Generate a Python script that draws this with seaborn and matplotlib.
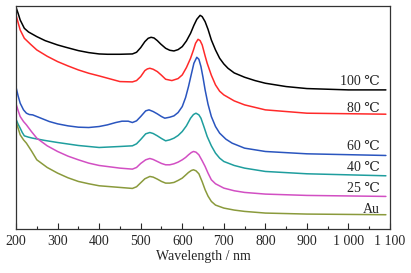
import matplotlib
matplotlib.use("Agg")
import matplotlib.pyplot as plt
import pandas as pd
import seaborn as sns

sns.set_style("white")
plt.rcParams['font.family'] = ['Liberation Serif', 'DejaVu Serif', 'DejaVu Sans']

# absorbance traces (arbitrary offset units)
wl_100 = [200, 205, 210, 220, 230, 250, 270, 300, 320, 350, 375, 400, 420, 450, 480, 490, 500, 510, 518, 525, 532, 540, 548, 560, 570, 580, 590, 600, 610, 620, 628, 635, 643, 648, 655, 662, 670, 680, 690, 700, 710, 725, 750, 775, 800, 850, 900, 950, 1000, 1090]
ab_100 = [666, 648, 628, 603, 592, 578, 566, 553, 546, 536, 530, 526, 525, 525, 526, 531, 545, 563, 573, 576, 574, 566, 556, 543, 537, 535, 539, 548, 565, 588, 612, 630, 642, 638, 623, 600, 568, 538, 513, 496, 483, 469, 456, 446, 438, 428, 422, 420, 418, 418]

wl_80 = [200, 205, 210, 220, 235, 250, 275, 300, 325, 350, 375, 400, 450, 480, 490, 500, 510, 516, 522, 530, 540, 550, 560, 575, 590, 600, 610, 620, 627, 632, 638, 643, 648, 655, 660, 670, 680, 690, 700, 725, 750, 800, 900, 1090]
ab_80 = [643, 620, 598, 573, 555, 538, 519, 503, 490, 478, 468, 460, 443, 442, 446, 458, 476, 481, 483, 480, 473, 462, 450, 446, 452, 463, 485, 513, 538, 558, 570, 566, 553, 520, 498, 462, 433, 414, 403, 385, 373, 358, 348, 345]

wl_60 = [200, 205, 210, 218, 225, 232, 240, 250, 260, 280, 300, 325, 350, 375, 400, 420, 440, 455, 470, 480, 490, 500, 512, 520, 530, 540, 550, 558, 570, 580, 590, 600, 608, 615, 622, 628, 635, 640, 645, 650, 655, 662, 670, 680, 690, 705, 720, 750, 800, 900, 1090]
ab_60 = [426, 400, 378, 358, 348, 344, 343, 338, 333, 323, 316, 310, 306, 305, 308, 313, 320, 324, 324, 320, 325, 338, 355, 358, 353, 346, 338, 333, 336, 340, 350, 368, 395, 428, 466, 498, 516, 510, 488, 455, 418, 375, 338, 308, 288, 270, 258, 243, 233, 226, 221]

wl_40 = [200, 205, 210, 215, 220, 230, 240, 270, 300, 350, 400, 450, 480, 490, 500, 512, 522, 530, 540, 550, 560, 570, 580, 590, 600, 610, 620, 627, 633, 640, 645, 652, 660, 670, 680, 690, 700, 725, 750, 800, 900, 1090]
ab_40 = [330, 315, 303, 290, 280, 276, 273, 266, 260, 251, 245, 248, 250, 256, 269, 286, 290, 287, 280, 272, 265, 268, 273, 281, 293, 310, 333, 344, 348, 343, 333, 308, 278, 250, 228, 213, 203, 191, 183, 173, 166, 160]

wl_25 = [200, 205, 210, 218, 225, 237, 250, 275, 300, 325, 350, 375, 400, 450, 480, 490, 500, 512, 522, 530, 540, 550, 560, 570, 580, 590, 600, 608, 615, 622, 627, 633, 640, 648, 655, 662, 670, 680, 700, 725, 750, 800, 900, 1090]
ab_25 = [376, 356, 338, 323, 313, 293, 273, 250, 233, 219, 208, 198, 191, 183, 180, 185, 197, 208, 212, 209, 203, 197, 193, 193, 196, 201, 208, 215, 223, 230, 233, 231, 223, 205, 188, 168, 148, 136, 123, 115, 110, 105, 101, 98]

wl_au = [200, 205, 210, 218, 225, 237, 250, 275, 300, 325, 350, 375, 400, 450, 480, 490, 500, 510, 522, 530, 540, 550, 560, 570, 580, 590, 600, 608, 615, 622, 627, 633, 640, 648, 655, 662, 670, 680, 700, 725, 750, 800, 900, 1090]
ab_au = [323, 303, 283, 268, 258, 235, 208, 185, 168, 154, 143, 136, 130, 125, 122, 127, 139, 151, 158, 156, 150, 143, 138, 138, 140, 146, 153, 162, 170, 176, 178, 175, 166, 142, 118, 99, 83, 72, 63, 57, 53, 48, 45, 43]

labels = ["100 \u2103", "80 \u2103", "60 \u2103", "40 \u2103", "25 \u2103", "Au"]
colors = ["#000000", "#ff2a2a", "#2a55bf", "#1f9e9e", "#d24fc3", "#8a9a3c"]
label_y = [433, 351, 236, 173, 110, 48]

series = [(wl_100, ab_100), (wl_80, ab_80), (wl_60, ab_60),
          (wl_40, ab_40), (wl_25, ab_25), (wl_au, ab_au)]

fig = plt.figure(figsize=(4.11, 2.73), dpi=100)
ax = fig.add_axes([0.039, 0.161, 0.910, 0.817])

for (wl, ab), lab, col, ly in zip(series, labels, colors, label_y):
    df = pd.DataFrame({"wl": wl, "ab": ab})
    sns.lineplot(data=df, x="wl", y="ab", ax=ax, color=col, linewidth=1.1)
    ax.text(1075, ly, lab, ha="right", va="baseline", fontsize=10)

ax.set_xlim(200, 1100)
ax.set_ylim(0, 670)
ax.set_xticks(range(200, 1101, 100))
ax.set_xticklabels(["200", "300", "400", "500", "600", "700", "800", "900", "1 000", "1 100"])
ax.set_xticks(range(250, 1100, 100), minor=True)
ax.set_yticks([])
ax.tick_params(axis="x", which="major", direction="in", length=4.3, width=0.8,
               labelsize=10, pad=4, bottom=True)
ax.tick_params(axis="x", which="minor", direction="in", length=2.2, width=0.8, bottom=True)
ax.set_xlabel("Wavelength / nm", fontsize=10, labelpad=2)
ax.set_ylabel("")
for s in ax.spines.values():
    s.set_color("#333333")
    s.set_linewidth(0.9)

fig.savefig("out.png", dpi=100)
